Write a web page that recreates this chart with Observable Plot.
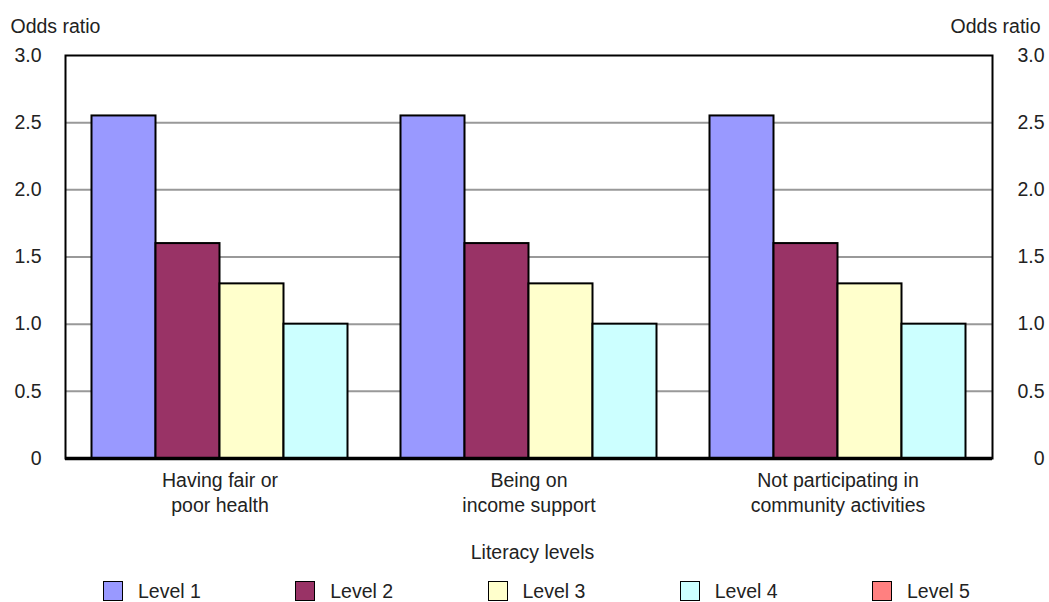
<!DOCTYPE html>
<html>
<head>
<meta charset="utf-8">
<script src="https://cdn.jsdelivr.net/npm/d3@7"></script>
<script src="https://cdn.jsdelivr.net/npm/@observablehq/plot@0.6"></script>
<style>
  html, body { margin: 0; padding: 0; background: #fff; }
  body { width: 1049px; height: 602px; overflow: hidden; font-family: "Liberation Sans", Arial, sans-serif; color: #222; }
  #legend-title { text-align: center; font-size: 19.5px; line-height: 24px; margin-top: 10px; padding-left: 16px; }
  #legend { display: flex; margin-top: 15px; padding-left: 103px; font-size: 19.5px; line-height: 24px; width: 1100px; }
  .item { display: flex; align-items: center; width: 192.25px; flex: 0 0 192.25px; }
  .sw { width: 18px; height: 18px; border: 1.5px solid #000; margin-right: 15px; }
</style>
</head>
<body>
<div id="chart"></div>
<div id="legend-title">Literacy levels</div>
<div id="legend"></div>
<script>
const categories = ["Having fair or\npoor health", "Being on\nincome support", "Not participating in\ncommunity activities"];
const levels = ["Level 1", "Level 2", "Level 3", "Level 4", "Level 5"];
const levelColors = ["#9999ff", "#993366", "#ffffcc", "#ccffff", "#ff8080"];
const level1 = [2.55, 2.55, 2.55];
const level2 = [1.6, 1.6, 1.6];
const level3 = [1.3, 1.3, 1.3];
const level4 = [1.0, 1.0, 1.0];
const yTicks = [0, 0.5, 1.0, 1.5, 2.0, 2.5, 3.0];
const yLabel = "Odds ratio";

const series = [level1, level2, level3, level4];
const data = [];
categories.forEach((c, i) => series.forEach((s, j) => data.push({category: c, level: levels[j], value: s[i]})));

const fmt = d => d === 0 ? "0" : d.toFixed(1);

const chart = Plot.plot({
  width: 1049,
  height: 530,
  marginLeft: 64.5,
  marginRight: 56,
  marginTop: 55,
  marginBottom: 72,
  style: {fontFamily: '"Liberation Sans", Arial, sans-serif', fontSize: "19.5px", color: "#222", background: "#fff"},
  fx: {domain: categories, padding: 0, label: null, axis: null},
  x: {domain: levels.slice(0, 4), paddingInner: 0, paddingOuter: 0.41, axis: null},
  y: {domain: [0, 3], label: null},
  color: {domain: levels, range: levelColors},
  marks: [
    Plot.gridY(yTicks.filter(d => d > 0 && d < 3), {stroke: "#999", strokeOpacity: 1, strokeWidth: 2}),
    Plot.barY(data, {fx: "category", x: "level", y: "value", fill: "level", stroke: "#000", strokeWidth: 2}),
    Plot.frame({facet: "super", stroke: "#000", strokeWidth: 2}),
    Plot.ruleY([0], {stroke: "#000", strokeWidth: 3.5}),
    Plot.axisY(yTicks, {anchor: "left", tickSize: 0, tickPadding: 24, tickFormat: fmt, label: null}),
    Plot.axisY(yTicks, {anchor: "right", tickSize: 0, tickPadding: 52, textAnchor: "end", tickFormat: fmt, label: null}),
    Plot.axisFx({anchor: "bottom", tickSize: 0, tickPadding: 11, label: null, lineHeight: 1.28}),
    Plot.text([yLabel], {facet: "super", frameAnchor: "top-left", text: d => d, textAnchor: "start", lineAnchor: "bottom", dx: -55, dy: -23}),
    Plot.text([yLabel], {facet: "super", frameAnchor: "top-right", text: d => d, textAnchor: "end", lineAnchor: "bottom", dx: 48, dy: -23})
  ]
});
document.getElementById("chart").appendChild(chart);

const legend = d3.select("#legend");
levels.forEach((l, i) => {
  const it = legend.append("div").attr("class", "item");
  it.append("div").attr("class", "sw").style("background", levelColors[i]);
  it.append("span").text(l);
});
</script>
</body>
</html>
